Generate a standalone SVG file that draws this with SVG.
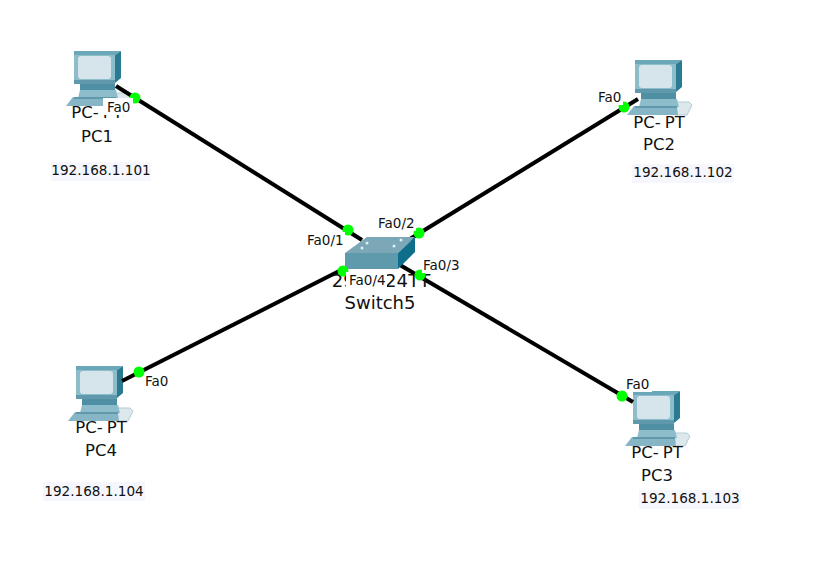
<svg xmlns="http://www.w3.org/2000/svg" width="836" height="568" viewBox="0 0 836 568">
<style>
.l{font-family:"DejaVu Sans",Verdana,sans-serif;font-size:16.5px;fill:#111;text-anchor:middle}
.s{font-family:"DejaVu Sans",Verdana,sans-serif;font-size:18px;fill:#111;text-anchor:middle}
.p{font-family:"DejaVu Sans",Verdana,sans-serif;font-size:13.5px;fill:#111}
.ip{font-family:"DejaVu Sans",Verdana,sans-serif;font-size:13.6px;fill:#111;text-anchor:middle}
.w{fill:#fff}
.b{fill:#f6f7fd}
.c{stroke:#000;stroke-width:4;fill:none}
.d{fill:#0f0}
</style>
<defs>
<g id="pc">
<path d="M49 42H62L65 45L60 55H48Z" fill="#dde8ec" stroke="#b4cbd4"/>
<path d="M14 31H49V39H14Z" fill="#4f8fa3"/>
<path d="M14 39H50L52 47H12Z" fill="#8dbccb"/>
<path d="M7 46H50L51 55H0Z" fill="#86b6c6"/>
<path d="M8 46H50V48H8Z" fill="#5f99ab"/>
<path d="M8 0H55L49 4V32H8Z" fill="#8dbccb"/>
<path d="M49 4L55 0V27L49 32Z" fill="#2a7b92"/>
<path d="M8 0H55L49 4H8Z" fill="#6aa7b9"/>
<path d="M8 29H49V33H8Z" fill="#5f99ab"/>
<rect x="12" y="5" width="33" height="23" rx="3" fill="#d5e5eb"/>
</g>
</defs>
<rect width="836" height="568" fill="#fff"/>
<g id="PC1"><use href="#pc" transform="translate(66,51)"/>
<text class="l" x="97" y="118">PC-<tspan dx="4">PT</tspan></text><text class="l" x="97" y="142">PC1</text>
<rect class="b" x="51" y="162" width="100" height="19"/><text class="ip" x="101" y="175">192.168.1.101</text></g>
<g id="PC2"><use href="#pc" transform="translate(627,60)"/>
<text class="l" x="659" y="128">PC-<tspan dx="4">PT</tspan></text><text class="l" x="659" y="150">PC2</text>
<rect class="b" x="632" y="164" width="102" height="19"/><text class="ip" x="683" y="177">192.168.1.102</text></g>
<g id="PC3"><use href="#pc" transform="translate(625,391)"/>
<text class="l" x="657" y="458">PC-<tspan dx="4">PT</tspan></text><text class="l" x="657" y="481">PC3</text>
<rect class="b" x="639" y="490" width="102" height="19"/><text class="ip" x="690" y="503">192.168.1.103</text></g>
<g id="PC4"><use href="#pc" transform="translate(68,366)"/>
<text class="l" x="101" y="433">PC-<tspan dx="4">PT</tspan></text><text class="l" x="101" y="456">PC4</text>
<rect class="b" x="43" y="482" width="102" height="19"/><text class="ip" x="94" y="496">192.168.1.104</text></g>
<g id="connectors">
<line class="c" x1="116" y1="86" x2="362" y2="240"/>
<line class="c" x1="638" y1="99" x2="405" y2="242"/>
<line class="c" x1="400" y1="265" x2="633" y2="402"/>
<line class="c" x1="355" y1="263" x2="122" y2="381"/>
</g>
<g id="Switch5">
<path d="M345 253L367 237H415L398 253Z" fill="#7ba7b7"/>
<path d="M398 253L415 237V252L398 269Z" fill="#0f6f8a"/>
<path d="M345 253H398V269H345Z" fill="#5f9aac"/>
<g fill="#dfeef2"><circle cx="362" cy="248" r="1.5"/><circle cx="394" cy="246" r="1.5"/><circle cx="367" cy="243" r="1.5"/><circle cx="401" cy="240" r="1.5"/></g>
<text class="s" x="381" y="287" letter-spacing=".2">2960-24TT</text><text class="s" x="380" y="309">Switch5</text>
</g>
<g id="ports">
<circle class="d" cx="135" cy="98" r="5.5"/><circle class="d" cx="348" cy="230" r="5.5"/>
<circle class="d" cx="624" cy="107" r="5.5"/><circle class="d" cx="419" cy="233" r="5.5"/>
<circle class="d" cx="420" cy="275" r="5.5"/><circle class="d" cx="622" cy="396" r="5.5"/>
<circle class="d" cx="343" cy="271" r="5.5"/><circle class="d" cx="139" cy="372" r="5.5"/>
</g>
<g id="labels">
<rect class="w" x="103" y="98" width="30" height="17"/><text class="p" x="107" y="112">Fa0</text>
<rect class="w" x="306" y="232" width="39" height="16"/><text class="p" x="307" y="245">Fa0/1</text>
<rect class="w" x="377" y="215" width="39" height="16"/><text class="p" x="378" y="228">Fa0/2</text>
<rect class="w" x="422" y="257" width="39" height="16"/><text class="p" x="423" y="270">Fa0/3</text>
<rect class="w" x="346" y="272" width="41" height="16"/><text class="p" x="349" y="285">Fa0/4</text>
<rect class="w" x="597" y="89" width="26" height="16"/><text class="p" x="598" y="102">Fa0</text>
<rect class="w" x="625" y="376" width="27" height="16"/><text class="p" x="626" y="389">Fa0</text>
<rect class="w" x="144" y="373" width="26" height="16"/><text class="p" x="145" y="386">Fa0</text>
</g>
</svg>
